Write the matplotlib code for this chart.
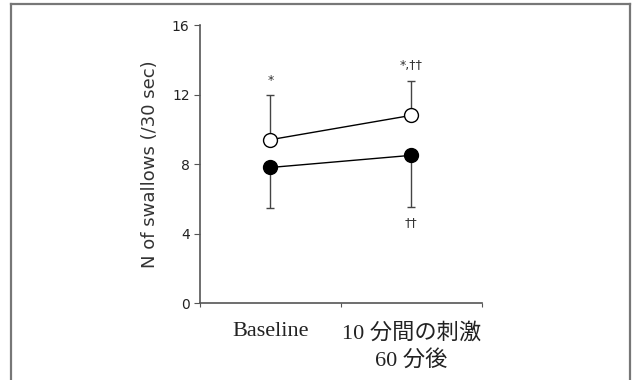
import matplotlib.pyplot as plt
from matplotlib.lines import Line2D

# data
groups = ['Baseline', '10 分間の刺激\n60 分後']
open_mean = [9.4, 10.8]
open_sd = [2.55, 2.0]
filled_mean = [7.8, 8.5]
filled_sd = [2.35, 3.0]
marks_open = ['*', '*,\u2020\u2020']
marks_filled = ['', '\u2020\u2020']

x = [0.5, 1.5]

fig = plt.figure(figsize=(6.32, 3.8), dpi=100)
ax = fig.add_axes([0.3165, 0.2026, 0.446, 0.7316])

# outer frame (bottom open)
for xs, ys in [([0.018, 0.018], [0.0, 0.99]), ([0.018, 0.997], [0.99, 0.99]), ([0.997, 0.997], [0.0, 0.99])]:
    fig.add_artist(Line2D(xs, ys, transform=fig.transFigure, color='#777777', lw=1.6))

# error bars: open circles upward, filled downward
ax.errorbar(x, open_mean, yerr=[[0, 0], open_sd], fmt='none', ecolor='#444444',
            elinewidth=1.0, capsize=3, capthick=1.0, zorder=1)
ax.errorbar(x, filled_mean, yerr=[filled_sd, [0, 0]], fmt='none', ecolor='#444444',
            elinewidth=1.0, capsize=3, capthick=1.0, zorder=1)

ax.plot(x, open_mean, '-o', color='black', lw=1.0, ms=10, mfc='white', mec='black', mew=1.0, zorder=3)
ax.plot(x, filled_mean, '-o', color='black', lw=1.0, ms=10, mfc='black', mec='black', zorder=3)

for xi, m, s, t in zip(x, open_mean, open_sd, marks_open):
    ax.text(xi, m + s + 0.5, t, ha='center', va='bottom', fontsize=9, color='#333333')
for xi, m, s, t in zip(x, filled_mean, filled_sd, marks_filled):
    ax.text(xi, m - s - 0.5, t, ha='center', va='top', fontsize=9, color='#333333')

ax.set_xlim(0, 2)
ax.set_ylim(0, 16)
ax.set_yticks([0, 4, 8, 12, 16])
ax.set_xticks([0, 1, 2])
ax.set_xticklabels([])
ax.set_xticks(x, minor=True)
ax.set_xticklabels(groups, minor=True, fontsize=16, linespacing=1.4,
                   family=['Liberation Serif', 'Noto Sans CJK JP'], color='#222222')
ax.tick_params(axis='x', which='minor', length=0, pad=14)
ax.tick_params(axis='x', which='major', direction='out', length=3, color='#555555')
ax.tick_params(axis='y', direction='out', length=4, color='#555555', labelsize=10, labelcolor='#222222')

ax.set_ylabel('N of swallows (/30 sec)', fontsize=13, color='#333333', labelpad=9)

for side in ['top', 'right']:
    ax.spines[side].set_visible(False)
for side in ['left', 'bottom']:
    ax.spines[side].set_color('#555555')
    ax.spines[side].set_linewidth(1.2)

plt.savefig('out.png', dpi=100)
